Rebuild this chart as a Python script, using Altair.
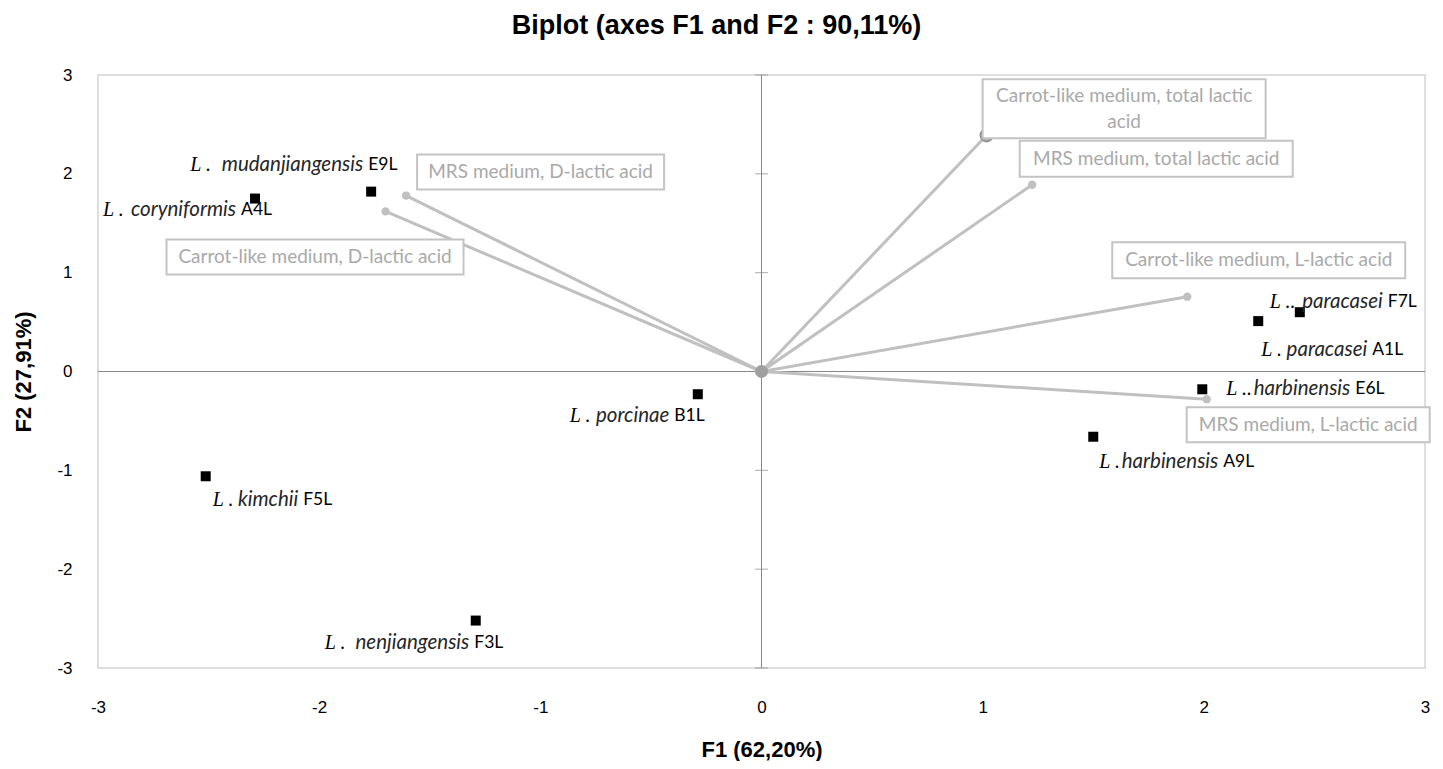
import altair as alt
import pandas as pd

# ---------------- data ----------------
species_codes = ["E9L", "A4L", "F7L", "A1L", "E6L", "A9L", "F5L", "B1L", "F3L"]
species_prefix = ["L .", "L .", "L ..", "L .", "L ..", "L .", "L .", "L .", "L ."]
species_names = ["mudanjiangensis", "coryniformis", "paracasei", "paracasei",
                 "harbinensis", "harbinensis", "kimchii", "porcinae", "nenjiangensis"]
species_f1 = [-1.765, -2.29, 2.434, 2.246, 1.993, 1.50, -2.513, -0.288, -1.292]
species_f2 = [1.82, 1.75, 0.60, 0.51, -0.18, -0.66, -1.06, -0.23, -2.52]

var_labels = ["Carrot-like medium, D-lactic acid", "MRS medium, D-lactic acid",
              "Carrot-like medium, total lactic acid", "MRS medium, total lactic acid",
              "Carrot-like medium, L-lactic acid", "MRS medium, L-lactic acid"]
var_f1 = [-1.70, -1.607, 1.018, 1.224, 1.925, 2.013]
var_f2 = [1.62, 1.78, 2.39, 1.89, 0.757, -0.28]

tick_vals = [-3, -2, -1, 0, 1, 2, 3]

# ---------------- styles (pixel offsets) ----------------
# code: (prefix dx, code dx, dy) relative to the marker; species text ends just before the code
species_label_style = {
    "E9L": (-181, -3, -27),
    "A4L": (-152, -14, 11),
    "F7L": (-30, 88, -10),
    "A1L": (3, 114, 28.5),
    "E6L": (24, 153, 0),
    "A9L": (6, 130, 25.5),
    "F5L": (7, 97.5, 24),
    "B1L": (-128, -23.5, 21.5),
    "F3L": (-151, -1.5, 22.5),
}
# label: (box centre dx, box centre dy, box width, box height, text lines)
var_label_style = {
    "Carrot-like medium, D-lactic acid": (-70.5, 45.5, 297, 35, ["Carrot-like medium, D-lactic acid"]),
    "MRS medium, D-lactic acid": (134.5, -23.5, 247, 35, ["MRS medium, D-lactic acid"]),
    "Carrot-like medium, total lactic acid": (137.5, -26.5, 283, 59, ["Carrot-like medium, total lactic", "acid"]),
    "MRS medium, total lactic acid": (124, -26, 273, 36, ["MRS medium, total lactic acid"]),
    "Carrot-like medium, L-lactic acid": (71.5, -36.5, 293, 36, ["Carrot-like medium, L-lactic acid"]),
    "MRS medium, L-lactic acid": (101.5, 25.5, 243, 35, ["MRS medium, L-lactic acid"]),
}

W, H = 1327, 593
SANS = "Lato"
GREY_TXT = "#a9a9a9"
GREY_LINE = "#c0c0c0"
AXIS_GREY = "#868686"

sp_df = pd.DataFrame({"code": species_codes, "prefix": species_prefix,
                      "name": species_names, "f1": species_f1, "f2": species_f2})
var_df = pd.DataFrame({"label": var_labels, "f1": var_f1, "f2": var_f2})
tick_df = pd.DataFrame({"t": tick_vals})

xs = alt.Scale(domain=[-3, 3], nice=False, zero=False)
ys = alt.Scale(domain=[-3, 3], nice=False, zero=False)

AX = alt.Axis(values=tick_vals, grid=False, domain=False, ticks=False, tickSize=0,
              labelFont="Liberation Sans", labelFontSize=17, labelColor="#000",
              labelPadding=39, labelBaseline="middle", labelFlush=False,
              labelOverlap=False, labelExpr="'' + datum.value",
              titleFont="Liberation Sans", titleFontSize=22, titleFontWeight="bold",
              titleColor="#000", titleX=W / 2, titleY=81, titleBaseline="middle",
              titleAlign="center")
AY = alt.Axis(values=tick_vals, grid=False, domain=False, ticks=False, tickSize=0,
              labelFont="Liberation Sans", labelFontSize=17, labelColor="#000",
              labelPadding=26, labelFlush=False, labelOverlap=False,
              labelExpr="'' + datum.value",
              titleFont="Liberation Sans", titleFontSize=22, titleFontWeight="bold",
              titleColor="#000", titleX=-75, titleY=H / 2, titleAngle=270,
              titleBaseline="middle", titleAlign="center")


def X(f):
    return alt.X(f, type="quantitative", scale=xs, axis=AX, title="F1 (62,20%)")


def Y(f):
    return alt.Y(f, type="quantitative", scale=ys, axis=AY, title="F2 (27,91%)")


layers = []

zero_base = alt.Chart(tick_df).transform_calculate(zero="0")
# zero lines
layers.append(zero_base.transform_filter(alt.datum.t == 0).mark_rule(
    color=AXIS_GREY, strokeWidth=1).encode(x=X("zero")))
layers.append(zero_base.transform_filter(alt.datum.t == 0).mark_rule(
    color=AXIS_GREY, strokeWidth=1).encode(y=Y("zero")))
# tick marks on vertical zero line
layers.append(zero_base.mark_tick(color=AXIS_GREY, orient="horizontal",
                                  size=13, thickness=1).encode(x=X("zero"), y=Y("t")))

# arrows
arrow_base = alt.Chart(var_df).transform_calculate(ox="0", oy="0")
layers.append(arrow_base.mark_rule(color=GREY_LINE, strokeWidth=3).encode(
    x=X("ox"), y=Y("oy"), x2=alt.X2("f1"), y2=alt.Y2("f2")))
layers.append(alt.Chart(var_df).transform_filter(
    alt.datum.label != "Carrot-like medium, total lactic acid").mark_circle(
    color=GREY_LINE, size=70, opacity=1).encode(x=X("f1"), y=Y("f2")))
layers.append(alt.Chart(var_df).transform_filter(
    alt.datum.label == "Carrot-like medium, total lactic acid").mark_point(
    filled=True, fill="#b3b3b3", stroke="#8f8f8f", strokeWidth=2, size=150,
    opacity=1, shape="circle").encode(x=X("f1"), y=Y("f2")))
# origin marker
layers.append(zero_base.transform_filter(alt.datum.t == 0).mark_circle(
    color="#a0a0a0", size=170, opacity=1).encode(x=X("zero"), y=Y("zero")))

# species points
layers.append(alt.Chart(sp_df).mark_square(color="black", size=100, opacity=1).encode(
    x=X("f1"), y=Y("f2")))

# variable label boxes and text
for lab, (bdx, bdy, bw, bh, lines) in var_label_style.items():
    base = alt.Chart(var_df).transform_filter(alt.datum.label == lab)
    layers.append(base.mark_rect(fill="white", stroke="#c4c4c4", strokeWidth=2,
                                 xOffset=bdx - bw / 2, x2Offset=bdx + bw / 2,
                                 yOffset=bdy - bh / 2, y2Offset=bdy + bh / 2).encode(
        x=X("f1"), x2=alt.X2("f1"), y=Y("f2"), y2=alt.Y2("f2")))
    txt = "\n".join(lines)
    layers.append(base.mark_text(text=txt, lineBreak="\n", lineHeight=26, font=SANS,
                                 fontSize=19, color=GREY_TXT, align="center",
                                 baseline="middle", dx=bdx,
                                 dy=bdy - (len(lines) - 1) * 13).encode(
        x=X("f1"), y=Y("f2")))

# species labels
for code, (pdx, cdx, dy) in species_label_style.items():
    base = alt.Chart(sp_df).transform_filter(alt.datum.code == code)
    layers.append(base.mark_text(font="Liberation Serif", fontStyle="italic", fontSize=20,
                                 color="#000", align="left", baseline="middle",
                                 dx=pdx, dy=dy).encode(x=X("f1"), y=Y("f2"), text="prefix:N"))
    layers.append(base.mark_text(font=SANS, fontStyle="italic", fontSize=20.5,
                                 color="#262626", align="right", baseline="middle",
                                 dx=cdx - 5, dy=dy).encode(x=X("f1"), y=Y("f2"), text="name:N"))
    layers.append(base.mark_text(font=SANS, fontSize=17.5, color="#000", align="left",
                                 baseline="middle", dx=cdx, dy=dy).encode(
        x=X("f1"), y=Y("f2"), text="code:N"))

chart = alt.layer(*layers).properties(
    width=W, height=H,
    autosize=alt.AutoSizeParams(type="none"),
    padding={"left": 90, "top": 67, "right": 8, "bottom": 93},
    title=alt.TitleParams("Biplot (axes F1 and F2 : 90,11%)", font="Liberation Sans",
                          fontSize=27, fontWeight="bold", color="#000", anchor="middle",
                          frame="group", dx=-45, offset=5, baseline="alphabetic"),
).configure_view(stroke="#d4d4d4", strokeWidth=1.5)

chart.save("out.html", embed_options={"renderer": "svg", "actions": False})
